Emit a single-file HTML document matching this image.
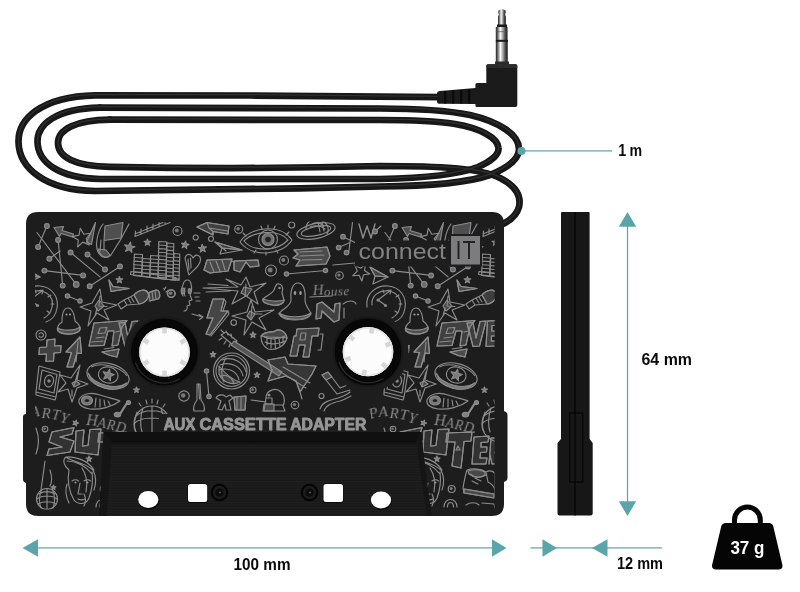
<!DOCTYPE html>
<html><head><meta charset="utf-8">
<style>
html,body{margin:0;padding:0;background:#fff;}
body{width:800px;height:592px;overflow:hidden;font-family:"Liberation Sans",sans-serif;}
svg{display:block}
text{filter:url(#idf)}
text{font-family:"Liberation Sans",sans-serif;}
</style></head><body>
<svg width="800" height="592" viewBox="0 0 800 592">
<defs>
<filter id="idf" x="-5%" y="-20%" width="110%" height="140%"><feOffset dx="0" dy="0"/></filter>
<linearGradient id="metal" x1="0" x2="1" y1="0" y2="0">
<stop offset="0" stop-color="#1e1e1e"/><stop offset="0.18" stop-color="#777"/><stop offset="0.38" stop-color="#fafafa"/><stop offset="0.55" stop-color="#b5b5b5"/><stop offset="0.78" stop-color="#4a4a4a"/><stop offset="0.92" stop-color="#2a2a2a"/><stop offset="1" stop-color="#8a8a8a"/>
</linearGradient>
<pattern id="ridge" width="10" height="2.600" patternUnits="userSpaceOnUse"><rect width="10" height="2.600" fill="#191919"/><rect width="10" height="1.100" fill="#1f1f1f"/></pattern>
<linearGradient id="tshadow" x1="0" x2="0" y1="0" y2="1"><stop offset="0" stop-color="#0a0a0a"/><stop offset="1" stop-color="#1a1a1a" stop-opacity="0"/></linearGradient>
<clipPath id="bodyclip"><path d="M26 224 Q26 212 38 212 L492 212 Q504 212 504 224 L504 504 Q504 516 492 516 L38 516 Q26 516 26 504 Z"/></clipPath>
<clipPath id="doodleclip"><rect x="35" y="221.500" width="459.500" height="288"/></clipPath>
</defs>

<!-- CABLE -->
<g id="cable" fill="none" stroke="#171717" stroke-width="6.700" stroke-linecap="round" stroke-linejoin="round">
<path d="M440 97.200 L250 95.500 L95 95.300 C40 96.500 18 120 18.500 142 C19 168 45 190.500 95 191 L300 188.400 L380 186.500 C440 186 470 182 490 175 C510 167 519 158 519 149 C519 135 500 122 470 115 C440 109 410 108.500 380 108.500 L100 107.600"/>
<path d="M100 107.600 C55 108.500 37 125 37.500 142 C38 162 58 178 100 179 L380 179 C430 178 460 174 478 167 C492 161 499 154 498.500 148 C498 138 480 128 455 124 C430 120 405 120 380 120 L110 119.700"/>
<path d="M110 119.700 C75 120 58 130 58 143 C58 157 75 166.500 110 166.800 Q250 169.600 380 166 C440 166 480 168 500 178 C518 187 521 198 519 207 C517 214 511 220 503 224"/>
</g>
<g fill="none" stroke="#303030" stroke-width="1.200" stroke-linecap="round" stroke-linejoin="round" transform="translate(0,-0.900)">
<path d="M440 97.200 L250 95.500 L95 95.300 C40 96.500 18 120 18.500 142 C19 168 45 190.500 95 191 L300 188.400 L380 186.500 C440 186 470 182 490 175 C510 167 519 158 519 149 C519 135 500 122 470 115 C440 109 410 108.500 380 108.500 L100 107.600"/>
<path d="M100 107.600 C55 108.500 37 125 37.500 142 C38 162 58 178 100 179 L380 179 C430 178 460 174 478 167 C492 161 499 154 498.500 148 C498 138 480 128 455 124 C430 120 405 120 380 120 L110 119.700"/>
<path d="M110 119.700 C75 120 58 130 58 143 C58 157 75 166.500 110 166.800 Q250 169.600 380 166 C440 166 480 168 500 178 C518 187 521 198 519 207 C517 214 511 220 503 224"/>
</g>

<!-- JACK -->
<g id="jack">
<!-- sleeve -->
<rect x="495.800" y="41" width="12.200" height="24" fill="url(#metal)"/>
<rect x="495.800" y="27" width="12" height="13.500" fill="url(#metal)"/>
<path d="M498 25 L498 16.500 Q498.800 15.500 498.800 14 Q497.600 12 498.500 10.500 Q502 7.500 505.500 10.500 Q506.400 12 505.200 14 Q505.200 15.500 506 16.500 L506 25 Z" fill="url(#metal)"/>
<rect x="497" y="24.500" width="10" height="2.500" fill="#1a1a1a"/>
<rect x="495.800" y="39.800" width="12.200" height="2" fill="#1a1a1a"/>
<rect x="495.800" y="31" width="12.200" height="1.200" fill="#555" opacity="0.600"/>
<rect x="495" y="61.500" width="14" height="3" fill="#2a2a2a"/>
<!-- body -->
<path d="M486.300 66 Q486.300 64.300 488 64.300 L515.600 64.300 Q517.300 64.300 517.300 66 L517.300 105 Q517.300 107 515.300 107 L477 107 Q475.400 107 475.400 105.500 L475.400 104 L440 103.800 Q437 103.800 437 101.500 L437 93.800 Q437 91.300 440 91 L475.400 88 L475.400 84.500 Q475.400 83 477 83 L486.300 83 Z" fill="#1b1b1b"/>
<path d="M488 64.300 L515.600 64.300 Q517.300 64.300 517.300 66 L517.300 68 L486.300 68 L486.300 66 Q486.300 64.300 488 64.300Z" fill="#2c2c2c"/>
<g fill="#090909"><rect x="444" y="91" width="2.200" height="12.500"/><rect x="452" y="90.500" width="2.200" height="13"/><rect x="460" y="90" width="2.200" height="13.500"/><rect x="468" y="89.500" width="2.200" height="14"/></g>
</g>

<!-- CASSETTE BODY -->
<g id="cassette">
<path d="M26 224 Q26 212 38 212 L492 212 Q504 212 504 224 L504 411 L506 412 Q507.500 413 507.500 415 L507.500 478 Q507.500 480 506 481 L504 482 L504 504 Q504 516 492 516 L38 516 Q26 516 26 504 L26 483 L24 482 Q23 481 23 479 L23 417 Q23 415 24 414.500 L26 414 Z" fill="#1d1d1d"/>
<g id="doodles" clip-path="url(#doodleclip)">
<defs><g id="tile" fill="none" stroke="#8c8c8c" stroke-width="1.15" stroke-linecap="round" stroke-linejoin="round">
<path d="M46.9 226.0 L38.1 246.9"/>
<circle cx="46.9" cy="226.0" r="2.4" fill="#6a6a6a"/>
<circle cx="38.1" cy="246.9" r="2.4" fill="#6a6a6a"/>
<path d="M36.9 232.5 L76.2 284.4" fill="none" />
<circle cx="76.2" cy="284.4" r="2.8" fill="#6a6a6a"/>
<path d="M58.1 240.0 L62.7 285.6"/>
<circle cx="58.1" cy="240.0" r="2.4" fill="#6a6a6a"/>
<circle cx="62.7" cy="285.6" r="2.4" fill="#6a6a6a"/>
<path d="M49.4 258.7 L60.0 251.0"/>
<circle cx="49.4" cy="258.7" r="2.4" fill="#6a6a6a"/>
<path d="M70.6 252.5 L100.0 276.9"/>
<circle cx="70.6" cy="252.5" r="2.4" fill="#6a6a6a"/>
<path d="M87.5 254.4 L105.0 269.4"/>
<circle cx="87.5" cy="254.4" r="2.4" fill="#6a6a6a"/>
<circle cx="105.0" cy="269.4" r="2.4" fill="#6a6a6a"/>
<path d="M44.4 270.6 L83.1 275.4"/>
<circle cx="44.4" cy="270.6" r="2.4" fill="#6a6a6a"/>
<circle cx="83.1" cy="275.4" r="2.4" fill="#6a6a6a"/>
<path d="M89.7 286.2 L120.0 266.5"/>
<circle cx="89.7" cy="286.2" r="2.4" fill="#6a6a6a"/>
<circle cx="120.0" cy="266.5" r="2.4" fill="#6a6a6a"/>
<path d="M54 227.5 L63.5 226.5 L62 230.5 L73.5 234 L72.5 237 L61 233.5 L59.5 236.5 Z" fill="#858585" fill-opacity="0.49"/>
<polygon points="80.3,228.2 83.8,234.2 90.8,233.3 86.2,238.6 89.2,244.9 82.7,242.1 77.6,247.0 78.3,240.0 72.1,236.6 79.0,235.1" fill="none"/>
<path d="M95.5 222.5 L86.5 242 L91.5 244.5 Z" fill="#858585" fill-opacity="0.52"/>
<path d="M105 226 L123 222.5 L121 238 L104 240.5 Z" fill="#858585" fill-opacity="0.49"/>
<path d="M103 224 C97 232 95 246 98 252 C101 258 107 259 111 255 C117 246 124 234 129 224 M101 240 L100 251 M104 241 L104 250" fill="none" />
<path d="M98 249 C100 257 107 259 110 255 L106 250 Z" fill="#858585" fill-opacity="0.49"/>
<path d="M135 236.5 L170 222.5 M136 233.5 L163 222.5 M135 236.5 L135.5 231 M141 234 L141 229 M147 231.5 L147 226 M153 229 L153 224 M159 226.500 L159 222.500 M165 224.500 L165 222.500" fill="none" />
<polygon points="130.5,242.1 131.1,246.0 134.9,246.7 131.4,248.5 131.9,252.4 129.1,249.7 125.5,251.3 127.3,247.8 124.6,244.9 128.5,245.5" fill="#777"/>
<polygon points="147.4,239.0 148.2,241.4 150.7,241.4 148.7,242.9 149.5,245.3 147.4,243.9 145.3,245.3 146.1,242.9 144.1,241.4 146.6,241.4" fill="#777"/>
<path d="M133.6 275.5 L134.4 254.0 L142.5 254.5 L141.7 276.5 Z" fill="none" />
<path d="M134.0 257.5 L142.1 258.0" fill="none" />
<path d="M134.0 261.1 L142.1 261.6" fill="none" />
<path d="M134.0 264.7 L142.1 265.2" fill="none" />
<path d="M134.0 268.3 L142.1 268.8" fill="none" />
<path d="M134.0 271.9 L142.1 272.4" fill="none" />
<path d="M141.7 276.5 L142.5 258.5 L150.6 259.0 L149.8 277.5 Z" fill="none" />
<path d="M142.1 262.0 L150.2 262.5" fill="none" />
<path d="M142.1 265.6 L150.2 266.1" fill="none" />
<path d="M142.1 269.2 L150.2 269.7" fill="none" />
<path d="M142.1 272.8 L150.2 273.3" fill="none" />
<path d="M149.8 277.5 L150.6 255.5 L158.8 256.0 L158.0 278.5 Z" fill="none" />
<path d="M150.2 259.0 L158.4 259.5" fill="none" />
<path d="M150.2 262.6 L158.4 263.1" fill="none" />
<path d="M150.2 266.2 L158.4 266.7" fill="none" />
<path d="M150.2 269.8 L158.4 270.3" fill="none" />
<path d="M150.2 273.4 L158.4 273.9" fill="none" />
<path d="M158.0 278.5 L158.8 241.5 L166.8 242.0 L166.0 279.5 Z" fill="none" />
<path d="M158.4 245.0 L166.4 245.5" fill="none" />
<path d="M158.4 248.6 L166.4 249.1" fill="none" />
<path d="M158.4 252.2 L166.4 252.7" fill="none" />
<path d="M158.4 255.8 L166.4 256.3" fill="none" />
<path d="M158.4 259.4 L166.4 259.9" fill="none" />
<path d="M158.4 263.0 L166.4 263.5" fill="none" />
<path d="M158.4 266.6 L166.4 267.1" fill="none" />
<path d="M158.4 270.2 L166.4 270.7" fill="none" />
<path d="M158.4 273.8 L166.4 274.3" fill="none" />
<path d="M158.4 277.4 L166.4 277.9" fill="none" />
<path d="M166.0 279.0 L166.8 243.0 L173.8 243.5 L173.0 280.0 Z" fill="none" />
<path d="M166.4 246.5 L173.4 247.0" fill="none" />
<path d="M166.4 250.1 L173.4 250.6" fill="none" />
<path d="M166.4 253.7 L173.4 254.2" fill="none" />
<path d="M166.4 257.3 L173.4 257.8" fill="none" />
<path d="M166.4 260.9 L173.4 261.4" fill="none" />
<path d="M166.4 264.5 L173.4 265.0" fill="none" />
<path d="M166.4 268.1 L173.4 268.6" fill="none" />
<path d="M166.4 271.7 L173.4 272.2" fill="none" />
<path d="M166.4 275.3 L173.4 275.8" fill="none" />
<path d="M173.0 279.5 L173.8 253.5 L179.8 254.0 L179.0 280.5 Z" fill="none" />
<path d="M173.4 257.0 L179.4 257.5" fill="none" />
<path d="M173.4 260.6 L179.4 261.1" fill="none" />
<path d="M173.4 264.2 L179.4 264.7" fill="none" />
<path d="M173.4 267.8 L179.4 268.3" fill="none" />
<path d="M173.4 271.4 L179.4 271.9" fill="none" />
<path d="M173.4 275.0 L179.4 275.5" fill="none" />
<path d="M173.4 278.6 L179.4 279.1" fill="none" />
<path d="M130.500 274.500 L176 280.500 L176 277.500 L131 271.500 Z" fill="none" />
<path d="M109 280 L111 291.5 L129 288.5 L113 286.5 Z" fill="#858585" fill-opacity="0.42"/>
<path d="M109 280 L111 291.5 L129 288.5 L113 286.5 Z" fill="none" />
<polygon points="119.4,276.5 120.2,278.9 122.7,278.9 120.7,280.4 121.5,282.8 119.4,281.4 117.3,282.8 118.1,280.4 116.1,278.9 118.6,278.9" fill="#777"/>
<path d="M100 289 L102 302 L117 305 L104 310 L109 320 L97 313 L88 326 L91 311 L80 307 L92 303 Z M100 296 L99 306 L107 306.500 M97 308 L95 316" fill="none" />
<path d="M99 300 L104 306 L98 311 L95 306 Z" fill="#858585" fill-opacity="0.42"/>
<path d="M118 304 L124 300 L127 305 L121 309 Z M124 300 L134 295 L139 304 L127 305 M134 295 C138 290 146 288 148 293 C150 297 146 303 139 304 M148 293 L156 290 C160 290 161 297 158 299 L149 301 M128 298 L131 303 M131 297 L134 302 M152 291 L153 300 M155 290.500 L156 299.500" fill="none" />
<path d="M134 295 C138 290 146 288 148 293 C150 297 146 303 139 304 Z" fill="#858585" fill-opacity="0.32"/>
<path d="M149 292.500 L156 290 C160 290 161 297 158 299 L150 301 Z" fill="#858585" fill-opacity="0.35"/>
<circle cx="171.0" cy="293.6" r="3.8"/>
<circle cx="170.4" cy="293.2" r="1.7" fill="#777" stroke="none"/>
<circle cx="164" cy="288.500" r="0.8" fill="#888" stroke="none"/>
<path d="M367 307 C365 293 377 285 388 286 C400 287 407 297 405 308 C404 315 400 320 394 322 M372 305 C371 295 380 290 388 291 C397 292 402 299 400 307 C399 312 396 316 392 318" fill="none" />
<path d="M378 300 L391 290 M391 290 L387 290.500 M391 290 L390 294 M378 300 L385 305 M396 297 L399 295 M399 304 L402 304 M395 311 L398 313 M384 293 L383 290" fill="none" />
<circle cx="378" cy="300" r="1.600" fill="#888" stroke="none"/>
<circle cx="385.500" cy="305.500" r="1.600" fill="#888" stroke="none"/>
<path d="M62 322 C62 312 64 308 68 308 C72 308 74 312 75 321 C79 324 81 328 79 331 C74 335 62 335 58 331 C56 328 59 324 62 322" fill="none" />
<path d="M58 328 C62 331 75 331 80 327 C81 330 79 332 76 333 C70 335 62 334 58 331 Z" fill="#858585" fill-opacity="0.49"/>
<circle cx="66.500" cy="314.500" r="1.100" fill="#999" stroke="none"/><circle cx="70" cy="314.500" r="1.100" fill="#999" stroke="none"/>
<path d="M67.5 296.0 L80.0 301.0"/>
<circle cx="67.5" cy="296.0" r="2.2" fill="#6a6a6a"/>
<circle cx="80.0" cy="301.0" r="2.2" fill="#6a6a6a"/>
<path d="M94 323 L127 320.500 L122 327 L118 345 L112 346 L114 331 L108 331 L104 345.500 L89 346 Z" fill="#858585" fill-opacity="0.35"/>
<path d="M94 323 L127 320.500 L122 327 L118 345 L112 346 L114 331 L108 331 L104 345.500 L89 346 Z M100 328 L107 327.500 L105 333 L98 333.500 Z M96 338 L104 337 M92 342 L103 341 M116 332 L120 331" fill="none" />
<path d="M119 323 L125 322.500 L128 338 L132 321.500 L138 321 L131.500 346 L125 346.500 Z" fill="#858585" fill-opacity="0.32"/>
<path d="M119 323 L125 322.500 L128 338 L132 321.500 L138 321 L131.500 346 L125 346.500 Z" fill="none" />
<path d="M139.500 321 L148.500 320.500 L148 325.500 L144 325.500 L143.800 331 L147.500 331 L147.300 336 L143.500 336 L143.300 341 L148 341 L147.500 346 L138 346.500 Z" fill="#858585" fill-opacity="0.32"/>
<path d="M139.500 321 L148.500 320.500 L148 325.500 L144 325.500 L143.800 331 L147.500 331 L147.300 336 L143.500 336 L143.300 341 L148 341 L147.500 346 L138 346.500 Z" fill="none" />
<circle cx="41.0" cy="335.0" r="5.0"/>
<path d="M39 334 C40 332 43 332.500 43.500 335 C43.500 337.500 40 338 39 336" fill="none" />
<path d="M47 340 L55 339 L54.500 346 L61 345.500 L60.500 352.500 L54 353 L53.500 361 L46 361.500 L46.500 354 L39 354.500 L39.500 347.500 L46.500 347 Z" fill="#858585" fill-opacity="0.35"/>
<path d="M47 340 L55 339 L54.500 346 L61 345.500 L60.500 352.500 L54 353 L53.500 361 L46 361.500 L46.500 354 L39 354.500 L39.500 347.500 L46.500 347 Z" fill="none" />
<path d="M80 337 L66 352 L71.500 352.500 L67 367 L73 367 L77 353 L81.500 353.500 Z" fill="#858585" fill-opacity="0.39"/>
<path d="M80 337 L66 352 L71.500 352.500 L67 367 L73 367 L77 353 L81.500 353.500 Z M78 342 L76 362" fill="none" />
<path d="M102 352 L119 349 L117 357 L110 355.500 Z" fill="#858585" fill-opacity="0.45"/>
<path d="M102 352 L119 349 L117 357 L110 355.500 Z M104 349 L114 347.500" fill="none" />
<g transform="rotate(14 108 376)">
<ellipse cx="108" cy="376" rx="21.500" ry="12.500"/>
<path d="M88 378 C96 388 120 388 128 378 C120 392 96 392 88 378" fill="#777" />
<ellipse cx="108" cy="375" rx="10" ry="8"/>
<polygon points="108.0,369.0 109.5,372.9 113.7,373.1 110.5,375.8 111.5,379.9 108.0,377.6 104.5,379.9 105.5,375.8 102.3,373.1 106.5,372.9" fill="#7a7a7a"/>
<path d="M90 371 C98 364 118 364 126 371" fill="none" />
</g>
<path d="M39 366 L60 372 L56 397 L36 392 Z M42 370 L57 374.500 L54 393 L39 389 Z M36 392 L36 395 L55 400 L56 397" fill="none" />
<ellipse cx="49" cy="381" rx="4.500" ry="6" transform="rotate(12 49 381)"/>
<circle cx="49" cy="381" r="1.800" fill="#888" stroke="none"/>
<path d="M80 365 L77 380 L88 384 L77 388 L72 402 L68 389 L58 392 L66 383 L60 375 L71 378 Z M78 372 L74 386 M72 390 L72 396" fill="none" />
<path d="M76 381 L80 384 L74 387 L72 383 Z" fill="#858585" fill-opacity="0.42"/>
<path d="M79 400 C82 393 92 392 100 395 C108 398 116 399 120 401 C112 407 100 410 90 409 C83 408 78 405 79 400 Z" fill="none" />
<ellipse cx="87" cy="400.500" rx="5.500" ry="4.500" fill="#777"/>
<ellipse cx="87" cy="400.500" rx="2.200" ry="1.600" fill="#222" stroke="none"/>
<path d="M96 398 L95 407 M100 399 L100 407 M104 400 L105 406 M108 401 L110 405" fill="none" />
<path d="M127 403 L120 414" fill="none" stroke-width="2.2"/>
<ellipse cx="117.500" cy="414.500" rx="3.200" ry="2.300" fill="#808080"/>
<circle cx="128.500" cy="402.500" r="2" fill="#808080"/>
<circle cx="152" cy="424" r="18"/>
<path d="M134 424 C140 416 164 416 170 424 M136 416 C144 409 160 409 168 416 M152 406 L152 432 M143 408 C140 416 140 426 142 432 M161 408 C164 416 164 426 162 432 M137 412 C134 420 134 428 136 432 M146 400 L147 404 M152 399 L152 403 M158 400 L157 404 M139 403 L141 406 M165 404 L163 407" fill="none" />
<polygon points="136.5,387.0 137.2,389.0 139.4,389.1 137.6,390.4 138.3,392.4 136.5,391.2 134.7,392.4 135.4,390.4 133.6,389.1 135.8,389.0" fill="#777"/>
<text x="370.0" y="419.0" font-size="15.0" font-style="italic" font-weight="normal" style="font-family:&quot;Liberation Serif&quot;" fill="#8a8a8a" stroke="none" letter-spacing="0.0" transform="rotate(-14.0 370.0 419.0)">P</text>
<text x="379.0" y="417.0" font-size="15.0" font-style="italic" font-weight="normal" style="font-family:&quot;Liberation Serif&quot;" fill="#8a8a8a" stroke="none" letter-spacing="0.0" transform="rotate(-6.0 379.0 417.0)">A</text>
<text x="389.5" y="417.5" font-size="15.0" font-style="italic" font-weight="normal" style="font-family:&quot;Liberation Serif&quot;" fill="#8a8a8a" stroke="none" letter-spacing="0.0" transform="rotate(2.0 389.5 417.5)">R</text>
<text x="399.0" y="419.5" font-size="15.0" font-style="italic" font-weight="normal" style="font-family:&quot;Liberation Serif&quot;" fill="#8a8a8a" stroke="none" letter-spacing="0.0" transform="rotate(8.0 399.0 419.5)">T</text>
<text x="407.5" y="422.0" font-size="15.0" font-style="italic" font-weight="normal" style="font-family:&quot;Liberation Serif&quot;" fill="#8a8a8a" stroke="none" letter-spacing="0.0" transform="rotate(12.0 407.5 422.0)">Y</text>
<polygon points="76.5,420.2 76.5,422.3 78.5,423.1 76.4,423.7 76.3,425.9 75.1,424.1 73.0,424.7 74.3,423.0 73.1,421.2 75.2,421.8" fill="#777"/>
<text x="86.0" y="425.0" font-size="16.0" font-style="italic" font-weight="normal" style="font-family:&quot;Liberation Serif&quot;" fill="#8a8a8a" stroke="none" letter-spacing="0.0" transform="rotate(4.0 86.0 425.0)">H</text>
<text x="97.0" y="427.0" font-size="14.0" font-style="italic" font-weight="normal" style="font-family:&quot;Liberation Serif&quot;" fill="#8a8a8a" stroke="none" letter-spacing="0.0" transform="rotate(8.0 97.0 427.0)">A</text>
<text x="106.0" y="429.0" font-size="14.0" font-style="italic" font-weight="normal" style="font-family:&quot;Liberation Serif&quot;" fill="#8a8a8a" stroke="none" letter-spacing="0.0" transform="rotate(10.0 106.0 429.0)">R</text>
<text x="115.0" y="431.0" font-size="14.0" font-style="italic" font-weight="normal" style="font-family:&quot;Liberation Serif&quot;" fill="#8a8a8a" stroke="none" letter-spacing="0.0" transform="rotate(12.0 115.0 431.0)">D</text>
<text x="124.5" y="433.0" font-size="14.0" font-style="italic" font-weight="normal" style="font-family:&quot;Liberation Serif&quot;" fill="#8a8a8a" stroke="none" letter-spacing="0.0" transform="rotate(0.0 124.5 433.0)">.</text>
<circle cx="184.0" cy="396.0" r="5.2"/>
<circle cx="183.2" cy="395.5" r="2.3" fill="#777" stroke="none"/>
<path d="M197 384 L200 384 L201 400 C204 404 205 408 204 411 L194 411 C193 408 194 404 197 400 Z M198.500 384 L199.500 399" fill="none" />
<path d="M206.5 371.0 L209.0 396.5"/>
<circle cx="206.5" cy="371.0" r="2.2" fill="#6a6a6a"/>
<circle cx="209.0" cy="396.5" r="2.2" fill="#6a6a6a"/>
<circle cx="45.0" cy="429.0" r="2.8"/>
<circle cx="44.6" cy="428.7" r="1.3" fill="#777" stroke="none"/>
<path d="M36 428 C39 436 39 446 36 454" fill="none" />
<path d="M52 432 L74 427.500 L72 434 L60 437 L74 441 L70 452 L47 455.500 L49 449 L62 447 L49 442 Z" fill="#858585" fill-opacity="0.21"/>
<path d="M52 432 L74 427.500 L72 434 L60 437 L74 441 L70 452 L47 455.500 L49 449 L62 447 L49 442 Z" fill="none" />
<path d="M76 431 L84 430 L82.500 446 L88 445.500 L90 429.500 L101 429 L98 455 L75 452 Z" fill="#858585" fill-opacity="0.21"/>
<path d="M76 431 L84 430 L82.500 446 L88 445.500 L90 429.500 L101 429 L98 455 L75 452 Z" fill="none" />
<path d="M99 433 L124 432 L123 441 L116 441.500 L113 468 L104 466 L107 442 L98 442 Z" fill="#858585" fill-opacity="0.21"/>
<path d="M99 433 L124 432 L123 441 L116 441.500 L113 468 L104 466 L107 442 L98 442 Z" fill="none" />
<path d="M126 437 L141 436 L140 442 L133 442.500 L133 447 L139 447 L138.500 452 L132.500 452.500 L132 458 L139 458 L138 464 L124 464 Z" fill="#858585" fill-opacity="0.21"/>
<path d="M126 437 L141 436 L140 442 L133 442.500 L133 447 L139 447 L138.500 452 L132.500 452.500 L132 458 L139 458 L138 464 L124 464 Z" fill="none" />
<path d="M143 438 L152 438 L151 452 L147 452 L150 464 L144 464 L142 455 L141 464 Z" fill="#858585" fill-opacity="0.21"/>
<path d="M143 438 L152 438 L151 452 L147 452 L150 464 L144 464 L142 455 L141 464 Z" fill="none" />
<path d="M110 446 L112 450 L108 450 Z" fill="none" />
<path d="M69 470 C67 480 69 492 74 500 C78 505 86 505 89 498 C92 490 93 480 92 472 M69 470 C64 466 62 460 66 457 C72 462 84 462 93 470 C96 476 96 484 94 490 M66 457 C74 456 88 460 94 470 M67 461 C76 461 86 466 92 474 M80 483 L78 494 L82 494 M78 499 C80 500 83 500 85 499 M72 481 C74 479.500 77 479.500 78.500 481 M84 481 C86 479.500 89 479.500 90.500 481 M67 484 C65 490 66 497 69 503" fill="none" />
<circle cx="75.500" cy="482.500" r="1" fill="#999" stroke="none"/><circle cx="87.500" cy="482.500" r="1" fill="#999" stroke="none"/>
<polygon points="89.0,456.0 89.7,458.0 91.9,458.1 90.1,459.4 90.8,461.4 89.0,460.2 87.2,461.4 87.9,459.4 86.1,458.1 88.3,458.0" fill="#777"/>
<path d="M45 461 L41 490" fill="none" />
<circle cx="47" cy="499" r="10.500"/>
<path d="M37 499 C42 495 52 495 57 499 M38 504 C43 501 51 501 56 504 M47 489 L47 509 M41 491 C39 497 39 503 41 508 M53 491 C55 497 55 503 53 508 M39 494 C44 491 50 491 55 494" fill="none" />
<polygon points="53.5,485.0 54.1,486.7 55.9,486.7 54.5,487.8 55.0,489.5 53.5,488.5 52.0,489.5 52.5,487.8 51.1,486.7 52.9,486.7" fill="#777"/>
<path d="M50 470 C52 476 52 482 50 486" fill="none" />
<path d="M119 470 C125 468 134 469 138 472 L140 482 C144 484 147 488 147 492 L146 498 L116 493 L115 488 C116 482 117 476 119 470 Z M116 489 L146 494 M138 472 C142 470 146 471 147 474 L147 488 M122 474 C127 478 133 478 138 475 M124 481 L130 484 M127 478 L133 481" fill="none" />
<path d="M120 471 C126 469 133 470 137 472 L137 475 C132 478 126 478 121 474 Z" fill="#858585" fill-opacity="0.42"/>
<path d="M116 489 L146 494 L146 498 L116 493 Z" fill="#858585" fill-opacity="0.42"/>
<circle cx="103.7" cy="489.0" r="3.5"/>
<circle cx="103.2" cy="488.6" r="1.6" fill="#777" stroke="none"/>
<path d="M96 507 C96 497 109 497 109 507 M99.500 507 C99.500 501 105.500 501 105.500 507" fill="none" />
<path d="M118 505 C122 502 128 502 131 505 M134 503 L146 504 L147 508" fill="none" />
<path d="M82 468 C86 474 88 482 86 492 M84 494 C86 498 86 502 84 506" fill="none" />
<circle cx="177.5" cy="231.0" r="4.5"/>
<circle cx="176.8" cy="230.6" r="2.0" fill="#777" stroke="none"/>
<path d="M197 227 L207 222.500 L229 226 L228 234 L213 231.500 L213 235 Z" fill="#858585" fill-opacity="0.35"/>
<path d="M197 227 L207 222.500 L229 226 L228 234 L213 231.500 L213 235 Z M207 222.500 L209 228 L228 231 M209 228 L213 231.500" fill="none" />
<circle cx="238.7" cy="229.2" r="4.0"/>
<circle cx="238.1" cy="228.8" r="1.8" fill="#777" stroke="none"/>
<circle cx="195.7" cy="237.5" r="2.5"/>
<circle cx="211.0" cy="238.7" r="2.5"/>
<polygon points="185.7,241.1 186.2,243.9 189.0,244.4 186.4,245.8 186.8,248.6 184.7,246.6 182.1,247.8 183.4,245.2 181.5,243.1 184.3,243.6" fill="#777"/>
<polygon points="202.1,244.3 203.4,247.1 206.4,246.9 204.1,248.9 205.3,251.7 202.6,250.2 200.3,252.1 201.0,249.2 198.4,247.6 201.4,247.2" fill="#777"/>
<path d="M215 242 L242 250 L220 254 L222 248 Z M222 248 L242 250 M218 244 L226 251" fill="none" />
<path d="M215 242 L242 250 L222 248 Z" fill="#858585" fill-opacity="0.35"/>
<path d="M240 242 C248 228 280 222 292 240 C282 256 252 258 240 242 Z M244 241 C252 232 278 228 288 240 C278 251 254 253 244 241 Z" fill="none" />
<circle cx="268" cy="239.500" r="9.500"/>
<circle cx="268" cy="239.500" r="6" fill="#6f6f6f"/>
<circle cx="268" cy="239.500" r="2.800" fill="#222" stroke="none"/>
<path d="M262 229 L261 226 M268 228 L268 225 M274 229 L275 226 M256 250 L254 253 M266 252 L266 255 M276 250 L278 253 M246 236 L243 233 M286 235 L289 232" fill="none" />
<circle cx="291.7" cy="225.0" r="3.0"/>
<ellipse cx="316" cy="231" rx="19.500" ry="7.500" transform="rotate(-12 316 231)"/>
<ellipse cx="316" cy="231" rx="15" ry="4.500" transform="rotate(-12 316 231)"/>
<path d="M306 229 C306 221 313 218 320 220 C327 222 330 228 327 234 M312 224 C316 222 321 223 324 226 M310 227 C315 225 321 226 325 229 M318 222 L320 232 M322 223 L324 231" fill="none" />
<path d="M352.500 222.500 L348.700 252.500 M343 236.700 L355 242.500 M338.700 247.500 L350 242.500" fill="none" />
<circle cx="343.0" cy="236.7" r="2.300" fill="#6a6a6a"/>
<circle cx="338.7" cy="247.5" r="2.300" fill="#6a6a6a"/>
<circle cx="346.5" cy="252.5" r="2.300" fill="#6a6a6a"/>
<path d="M333 265 L355 263" fill="none" />
<path d="M359 224 L363 238 L367 226 L371 238 L375 224" fill="none" stroke-width="1.400"/>
<path d="M375.0 231.5 L381.0 226.0"/>
<circle cx="375.0" cy="231.5" r="2.4" fill="#6a6a6a"/>
<path d="M186 262 C183 255 190 251 193 258 C196 253 202 255 200 262 C198 268 192 271 189 275 C187 270 187 266 186 262 Z M188 259 L189 270 M190.500 258 L191 268" fill="none" />
<path d="M207 260 L232 259 L228 271 L210 273 L204 270 Z" fill="#858585" fill-opacity="0.42"/>
<path d="M234 261 L258 260 L259 266 L250 267 L246 262 L240 272 L234 270 Z" fill="#858585" fill-opacity="0.42"/>
<path d="M207 260 L232 259 L228 271 L210 273 L204 270 Z" fill="none" />
<path d="M234 261 L258 260 L259 266 L250 267 L246 262 L240 272 L234 270 Z" fill="none" />
<path d="M232 261 L234 262 M210 262 L214 272 M216 261 L220 271 M222 260 L225 270" fill="none" />
<path d="M294 250 L327 247 L330 256 L326 264 L296 266 L300 260 L293 258 L298 254 Z" fill="#858585" fill-opacity="0.45"/>
<path d="M294 250 L327 247 L330 256 L326 264 L296 266 L300 260 L293 258 L298 254 Z M300 252 L322 251 M300 256 L324 255 M302 260 L322 259.500" fill="none" />
<circle cx="284.0" cy="260.5" r="4.5"/>
<circle cx="283.3" cy="260.1" r="2.0" fill="#777" stroke="none"/>
<circle cx="271.0" cy="270.5" r="5.5"/>
<circle cx="270.2" cy="269.9" r="2.5" fill="#777" stroke="none"/>
<path d="M286.5 274.0 L325.5 270.5"/>
<circle cx="286.5" cy="274.0" r="2.2" fill="#6a6a6a"/>
<circle cx="325.5" cy="270.5" r="2.2" fill="#6a6a6a"/>
<circle cx="339.5" cy="275.5" r="3.8"/>
<circle cx="338.9" cy="275.1" r="1.7" fill="#777" stroke="none"/>
<path d="M246 277 L250 287 L266 283 L254 292 L258 304 L246 296 L232 304 L238 291 L203 288 L238 287 L226 279 L241 285 Z M208 284 L228 285.500 M206 292 L230 291 M246 284 L245 296" fill="none" />
<path d="M244 287 L252 289 L247 296 L241 293 Z" fill="#858585" fill-opacity="0.42"/>
<path d="M183 285 C184 279 190 278 191 284 C192 288 192 292 190 295 L192 300 L189 301 L190 305 L187 306 C188 309 186 311 184 311 M183 285 C181 288 181 293 183 296 M185 288 C184 291 184 294 185 296" fill="none" />
<ellipse cx="183" cy="291" rx="1.800" ry="3" fill="#777"/>
<ellipse cx="189.500" cy="291" rx="1.300" ry="2.500" fill="#777"/>
<circle cx="171.5" cy="293.5" r="3.8"/>
<circle cx="170.9" cy="293.1" r="1.7" fill="#777" stroke="none"/>
<path d="M194 293 L200 293 M195 297 L199 297 M196 301 L200 301" fill="none" />
<path d="M164 290 L166 287 M166 292 L169 290" fill="none" />
<path d="M213 299 L224 299 L221 311 L228 311 L210 335 L206 334 L213 318 L207 318 Z" fill="#858585" fill-opacity="0.39"/>
<path d="M213 299 L224 299 L221 311 L228 311 L210 335 L206 334 L213 318 L207 318 Z" fill="none" />
<path d="M224 299 L226 302 L223 311 M228 311 L229 314 L211 336" fill="none" />
<path d="M192 314 L203 317 M203 317 L199 314.500 M203 317 L199.500 319.500" fill="none" />
<path d="M251 300 L255 312 L274 310 L259 318 L266 330 L252 322 L244 335 L246 320 L232 316 L247 312 Z M252 306 L251 318 M254 314 L262 314" fill="none" />
<path d="M250 311 L255 314 L251 320 L247 316 Z" fill="#858585" fill-opacity="0.42"/>
<path d="M277 284 C282 283 284 288 282 293 L284 300 C284 304 278 306 272 305 C266 304 262 302 263 299 C266 296 272 294 274 290 C275 287 276 285 277 284 Z" fill="none" />
<path d="M263 299 C268 301 278 302 284 300 C284 304 278 306 272 305 C266 304 262 302 263 299 Z" fill="#858585" fill-opacity="0.49"/>
<circle cx="279.500" cy="288" r="1.300" fill="#888" stroke="none"/>
<path d="M291 300 C290 290 293 283 298 283 C303 283 306 290 305 300 C305 306 310 310 311 314 C306 321 286 321 279 314 C281 309 291 307 291 300" fill="none" />
<path d="M279 313 C286 318 304 318 311 313 C310 318 304 320 295 320 C286 320 280 318 279 313 Z" fill="#858585" fill-opacity="0.49"/>
<ellipse cx="295" cy="293" rx="1.300" ry="2" fill="#999" stroke="none"/><ellipse cx="300.500" cy="293" rx="1.300" ry="2" fill="#999" stroke="none"/>
<text x="313.0" y="295.0" font-size="15.0" font-style="italic" font-weight="normal" style="font-family:&quot;Liberation Serif&quot;" fill="#8a8a8a" stroke="none" letter-spacing="0.0" transform="rotate(-3.0 313.0 295.0)">H</text>
<text x="324.0" y="295.5" font-size="13.0" font-style="italic" font-weight="normal" style="font-family:&quot;Liberation Serif&quot;" fill="#8a8a8a" stroke="none" letter-spacing="0.5" transform="rotate(-2.0 324.0 295.5)">ouse</text>
<path d="M310 297 L332 296" fill="none" />
<path d="M317 304 L322 302 L334 312 L335 304 L340 303 L339 320 L334 322 L322 311 L321 318 L316 319 Z" fill="#858585" fill-opacity="0.35"/>
<path d="M317 304 L322 302 L334 312 L335 304 L340 303 L339 320 L334 322 L322 311 L321 318 L316 319 Z" fill="none" />
<path d="M343 304 C348 300 354 300 356 304 M344 308 L344 318" fill="none" />
<circle cx="233.7" cy="322.5" r="2.8"/>
<polygon points="253.0,331.8 253.8,334.0 256.0,334.0 254.2,335.4 254.9,337.6 253.0,336.3 251.1,337.6 251.8,335.4 250.0,334.0 252.2,334.0" fill="#777"/>
<polygon points="365.5,264.2 364.5,270.5 369.8,273.9 363.5,274.8 361.9,281.0 359.1,275.3 352.8,275.7 357.3,271.2 355.0,265.3 360.6,268.2" fill="none"/>
<path d="M370 267 L388 277 L373 284 L375 276 Z M375 276 L388 277" fill="none" />
<path d="M370 267 L388 277 L375 276 Z" fill="#858585" fill-opacity="0.39"/>
<path d="M221 335 L226 332 L237 341 L233 345 Z M224 333 L221 330 M228 335 L226 331 M232 338 L231 334 M222 338 L219 340 M226 341 L224 344 M230 344 L229 347" fill="none" />
<path d="M234 341 L282 372 L279 376 L231 345 Z" fill="#555" />
<path d="M268 360 L285 357 L288 364 L316 366 L312 374 L300 392 L296 381 L286 376 L268 381 L272 370 Z M279 371 L306 388 M283 367 L310 383 M300 392 L302 399" fill="none" />
<path d="M268 360 L285 357 L288 364 L316 366 L312 374 L300 392 L296 381 L286 376 L268 381 L272 370 Z" fill="#858585" fill-opacity="0.24"/>
<path d="M261 336 C266 330 272 333 275 331 C280 328 286 332 287 338 C285 346 276 351 268 349 C264 347 261 342 261 336 Z M264 337 C270 340 280 339 285 336 M267 337 L267 345 M271 338 L271 348 M275 338.500 L275.500 349 M279 338 L280 347 M283 337 L283 343 M265 342 C271 345 280 344 285 341" fill="none" />
<path d="M261 336 C266 330 272 333 275 331 C280 328 286 332 287 338 C280 337 268 338 261 336 Z" fill="#858585" fill-opacity="0.42"/>
<path d="M297 329 L319 328 L318 336 L312 336 L309 357 L303 357 L305 345 L299 345 L297 356 L290 356 L294 336 L296 336 Z" fill="#858585" fill-opacity="0.35"/>
<path d="M297 329 L319 328 L318 336 L312 336 L309 357 L303 357 L305 345 L299 345 L297 356 L290 356 L294 336 L296 336 Z" fill="none" />
<path d="M301 333 L306 333 L305 340 L300 340 Z M320 334 L323 334 L321 350 L318 350" fill="none" />
<polygon points="213.0,351.5 213.7,353.5 215.9,353.6 214.1,354.9 214.8,356.9 213.0,355.7 211.2,356.9 211.9,354.9 210.1,353.6 212.3,353.5" fill="#777"/>
<polygon points="257.0,372.0 257.7,374.0 259.9,374.1 258.1,375.4 258.8,377.4 257.0,376.2 255.2,377.4 255.9,375.4 254.1,374.1 256.3,374.0" fill="#777"/>
<circle cx="231.500" cy="371" r="18"/>
<circle cx="231.500" cy="371" r="15.500"/>
<path d="M222 360 C232 356 244 362 246 372 M220 365 C230 361 241 366 243 376 M219 370 C228 367 237 371 239 380 M220 376 C226 374 232 377 234 383 M226 358 C222 364 220 374 224 382" fill="none" />
<path d="M219 366 C224 372 232 380 240 382 C232 386 222 382 219 374 Z" fill="#858585" fill-opacity="0.35"/>
<path d="M216 398 C218 394 224 394 226 397 L230 395 L233 398 L229 401 L231 410 L226 410 L225 404 L222 410 L218 409 L221 401 Z" fill="none" />
<path d="M234 397 L246 396 L245 410 L235 410 Z" fill="#858585" fill-opacity="0.42"/>
<path d="M234 397 L246 396 L245 410 L235 410 Z M237 397 L237 410 M241 397 L241 410" fill="none" />
<path d="M266 398 C266 390 276 387 281 392 C285 396 285 402 283 406 L285 411 L264 411 L265 404 Z M266 398 L272 398 L272 404 L265 404 M251 400 L266 402 M274 405 L283 405" fill="none" />
<path d="M264 404 L274 404 L274 411 L263 411 Z" fill="#858585" fill-opacity="0.42"/>
<circle cx="269" cy="395" r="1.500" fill="#888" stroke="none"/>
<circle cx="253.0" cy="390.0" r="3.0"/>
<circle cx="252.6" cy="389.7" r="1.4" fill="#777" stroke="none"/>
<circle cx="295.0" cy="405.0" r="3.8"/>
<circle cx="294.4" cy="404.6" r="1.7" fill="#777" stroke="none"/>
<circle cx="321.5" cy="396.0" r="2.5"/>
<path d="M322 375 L328 372 L340 388 L350 384 M326 380 L337 394 L350 390 M322 375 L326 380 M320 409 C322 402 330 400 338 398 C344 396 348 394 350 392 M324 411 C326 405 332 403 340 401 C346 399 349 397 351 396" fill="none" />
<path d="M322 375 L328 372 L332 377 L326 380 Z" fill="#858585" fill-opacity="0.42"/>
</g></defs>
<use href="#tile" x="-348"/><use href="#tile"/><use href="#tile" x="348"/>
</g><!--ENDDOODLES-->
<rect x="355" y="240.500" width="97" height="26" fill="#1d1d1d"/><rect x="449" y="234" width="33" height="32.500" fill="#1d1d1d"/>
<rect x="159" y="414" width="212" height="18" fill="#1d1d1d"/>
<!-- trapezoid -->
<path d="M103.500 432 L421 432 L431.500 516 L99 516 Z" fill="#151515"/>
<path d="M103.500 432 L421 432 L416 441 L112 441 Z" fill="#101010"/>
<path d="M112 441 L416 441 L426.500 516 L107 516 Z" fill="url(#ridge)"/>
<path d="M112 441 L416 441 L417 448 L111.500 448 Z" fill="url(#tshadow)"/>
<!-- hubs -->
<g id="hubs">
<circle cx="164.5" cy="352" r="40.500" fill="#1d1d1d"/>
<circle cx="164.5" cy="352" r="35.500" fill="#181818"/>
<circle cx="164.5" cy="352" r="33.500" fill="#070707"/>
<path d="M135.4 362.6 A31 31 0 0 0 180.0 378.8" fill="none" stroke="#2b2b2b" stroke-width="1.300"/>
<ellipse cx="164.5" cy="352" rx="25.300" ry="24.600" fill="#fcfcfc"/>
<ellipse cx="164.5" cy="352" rx="24.500" ry="23.800" fill="none" stroke="#e4e4e4" stroke-width="1.600"/>
<rect x="162.2" y="328.0" width="4.600" height="5.500" fill="#d6d6d6" transform="rotate(0 164.5 352)"/>
<rect x="162.2" y="328.0" width="4.600" height="5.500" fill="#d6d6d6" transform="rotate(60 164.5 352)"/>
<rect x="162.2" y="328.0" width="4.600" height="5.500" fill="#d6d6d6" transform="rotate(120 164.5 352)"/>
<rect x="162.2" y="328.0" width="4.600" height="5.500" fill="#d6d6d6" transform="rotate(180 164.5 352)"/>
<rect x="162.2" y="328.0" width="4.600" height="5.500" fill="#d6d6d6" transform="rotate(240 164.5 352)"/>
<rect x="162.2" y="328.0" width="4.600" height="5.500" fill="#d6d6d6" transform="rotate(300 164.5 352)"/>
<circle cx="368" cy="351.7" r="40.500" fill="#1d1d1d"/>
<circle cx="368" cy="351.7" r="35.500" fill="#181818"/>
<circle cx="368" cy="351.7" r="33.500" fill="#070707"/>
<path d="M338.9 362.3 A31 31 0 0 0 383.5 378.5" fill="none" stroke="#2b2b2b" stroke-width="1.300"/>
<ellipse cx="368" cy="351.7" rx="25.300" ry="24.600" fill="#fcfcfc"/>
<ellipse cx="368" cy="351.7" rx="24.500" ry="23.800" fill="none" stroke="#e4e4e4" stroke-width="1.600"/>
<rect x="365.7" y="327.7" width="4.600" height="5.500" fill="#d6d6d6" transform="rotate(10 368 351.7)"/>
<rect x="365.7" y="327.7" width="4.600" height="5.500" fill="#d6d6d6" transform="rotate(70 368 351.7)"/>
<rect x="365.7" y="327.7" width="4.600" height="5.500" fill="#d6d6d6" transform="rotate(130 368 351.7)"/>
<rect x="365.7" y="327.7" width="4.600" height="5.500" fill="#d6d6d6" transform="rotate(190 368 351.7)"/>
<rect x="365.7" y="327.7" width="4.600" height="5.500" fill="#d6d6d6" transform="rotate(250 368 351.7)"/>
<rect x="365.7" y="327.7" width="4.600" height="5.500" fill="#d6d6d6" transform="rotate(310 368 351.7)"/>
</g>
<!-- holes -->
<ellipse cx="149" cy="500.500" rx="10.500" ry="9" fill="#0a0a0a"/><ellipse cx="148.300" cy="499.500" rx="10.100" ry="8.500" fill="#fff"/>
<ellipse cx="381.600" cy="501" rx="10.500" ry="9" fill="#0a0a0a"/><ellipse cx="381" cy="500" rx="10.100" ry="8.500" fill="#fff"/>
<rect x="187.300" y="483.500" width="20.500" height="19.500" rx="3" fill="#0a0a0a"/><rect x="188" y="484" width="19.200" height="18" rx="2.500" fill="#fff"/>
<rect x="322.800" y="483.500" width="20.700" height="19.500" rx="3" fill="#0a0a0a"/><rect x="323.500" y="484" width="19.500" height="18" rx="2.500" fill="#fff"/>
<circle cx="219.500" cy="492.500" r="7.800" fill="#1c1c1c" stroke="#050505" stroke-width="2.200"/><circle cx="219.500" cy="492.500" r="4" fill="#0b0b0b"/><circle cx="220" cy="492.500" r="1" fill="#555"/>
<circle cx="309.500" cy="492.500" r="7.800" fill="#1c1c1c" stroke="#050505" stroke-width="2.200"/><circle cx="309.500" cy="492.500" r="4" fill="#0b0b0b"/><circle cx="310" cy="492.500" r="1" fill="#555"/>
<!-- label -->
<g font-size="16" font-weight="bold" fill="#969696" stroke="#969696" stroke-width="0.900" stroke-linejoin="round">
<text x="163.700" y="429.600" textLength="31.700" lengthAdjust="spacingAndGlyphs">AUX</text>
<text x="199.400" y="429.600" textLength="87.200" lengthAdjust="spacingAndGlyphs">CASSETTE</text>
<text x="290.200" y="429.600" textLength="76.200" lengthAdjust="spacingAndGlyphs">ADAPTER</text>
</g>
<!-- logo -->
<text x="358.500" y="259" font-size="22.500" fill="#828282" textLength="87.500" lengthAdjust="spacingAndGlyphs">connect</text>
<rect x="451" y="236" width="29" height="28.500" fill="#7c7c7e"/>
<g stroke="#222" stroke-width="2" fill="none"><path d="M458.500 241 V259 M463 242 H475 M469 241 V259"/></g>
</g>

<!-- SIDE VIEW -->
<g id="side">
<path d="M561 213 Q561 212 562 212 L588.600 212 Q589.600 212 589.600 213 L589.600 439 L592.700 443 L592.700 513.500 Q592.700 515.500 590.700 515.500 L559.500 515.500 Q557.500 515.500 557.500 513.500 L557.500 443 L561 439 Z" fill="#171717"/>
<path d="M575 212 V515.500" stroke="#030303" stroke-width="1.100"/>
<rect x="569.600" y="413" width="13.200" height="69" fill="none" stroke="#050505" stroke-width="1.100"/>
</g>

<!-- DIMENSIONS -->
<g id="dims" fill="#5ba4a9" stroke="none">
<rect x="30" y="547.300" width="470" height="1.200"/>
<path d="M22.500 548 L38 539.300 L38 556.700 Z"/>
<path d="M506.500 548 L492 539.300 L492 556.700 Z"/>
<rect x="530.500" y="547.300" width="131.500" height="1.200"/>
<path d="M557 548 L542.500 539.300 L542.500 556.700 Z"/>
<path d="M592 548 L607.500 539.300 L607.500 556.700 Z"/>
<rect x="626.900" y="220" width="1.200" height="288"/>
<path d="M627.500 212 L618.800 226.700 L636.200 226.700 Z"/>
<path d="M627.500 516 L618.800 501.300 L636.200 501.300 Z"/>
<rect x="521" y="150.300" width="91" height="1.200"/>
<circle cx="521.500" cy="151" r="4"/>
</g>
<g id="labels" fill="#0a0a0a" font-weight="bold" font-size="16.300">
<text x="233.500" y="569.900" textLength="57" lengthAdjust="spacingAndGlyphs">100 mm</text>
<text x="617" y="569.300" textLength="46" lengthAdjust="spacingAndGlyphs">12 mm</text>
<text x="641.500" y="364.700" textLength="50.500" lengthAdjust="spacingAndGlyphs">64 mm</text>
<text x="618.300" y="155.600" textLength="8" lengthAdjust="spacingAndGlyphs">1</text><text x="629.600" y="155.600" textLength="12.600" lengthAdjust="spacingAndGlyphs">m</text>
</g>

<!-- WEIGHT ICON -->
<g id="weight">
<path d="M726 523 L769 523 Q772.500 523 773.300 526.500 L782.300 564.500 Q783.300 569.600 778.500 569.600 L716 569.600 Q711.200 569.600 712.200 564.500 L721.200 526.500 Q722 523 726 523 Z" fill="#050505"/>
<path d="M734.500 525 L734.500 520 A12.900 12.900 0 0 1 760.300 520 L760.300 525" fill="none" stroke="#050505" stroke-width="5"/>
<text x="730.400" y="553.800" font-size="17.500" font-weight="bold" fill="#fff" textLength="34" lengthAdjust="spacingAndGlyphs">37 g</text>
</g>
</svg>
</body></html>
